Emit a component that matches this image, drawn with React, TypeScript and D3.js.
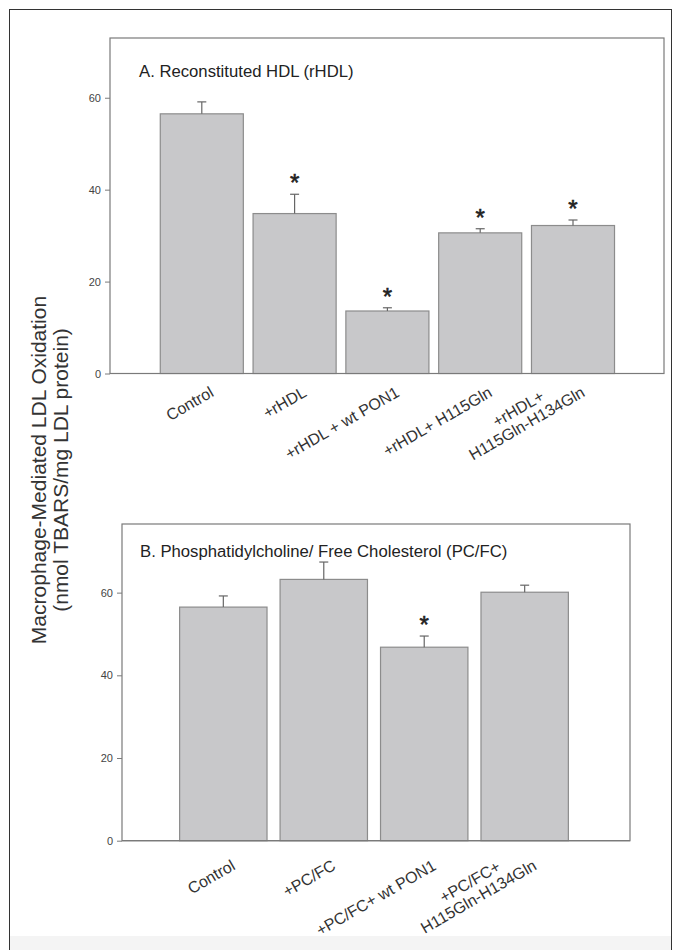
import React, { useEffect, useRef } from 'react';
import * as d3 from 'd3';

// Panel A: reconstituted HDL
const panelACategories = ['Control', '+rHDL', '+rHDL + wt PON1', '+rHDL+ H115Gln', '+rHDL+\nH115Gln-H134Gln'];
const panelAMeans = [56.5, 34.8, 13.6, 30.6, 32.2];
const panelAErrors = [2.6, 4.2, 0.7, 0.9, 1.2];
const panelASignificant = [false, true, true, true, true];

// Panel B: PC/FC
const panelBCategories = ['Control', '+PC/FC', '+PC/FC+ wt PON1', '+PC/FC+\nH115Gln-H134Gln'];
const panelBMeans = [56.5, 63.2, 46.8, 60.1];
const panelBErrors = [2.7, 4.2, 2.7, 1.7];
const panelBSignificant = [false, false, true, false];

const yTicks = [0, 20, 40, 60];

const FONT = "'Liberation Sans', Arial, Helvetica, sans-serif";
const BAR_FILL = '#c8c8ca';
const BAR_STROKE = '#8c8c8c';
const AXIS = '#7a7a7a';

type Panel = {
    title: string;
    categories: string[];
    means: number[];
    errors: number[];
    significant: boolean[];
    box: { left: number; top: number; right: number; bottom: number };
    yMax: number;
    bandRange: [number, number];
    padding: number;
    labelGap: number;
    titleX: number;
    titleY: number;
};

const panels: Panel[] = [
    {
        title: 'A. Reconstituted HDL (rHDL)',
        categories: panelACategories,
        means: panelAMeans,
        errors: panelAErrors,
        significant: panelASignificant,
        box: { left: 110, top: 38, right: 664, bottom: 373.5 },
        yMax: 73,
        bandRange: [155.4, 619.4],
        padding: 0.105,
        labelGap: 22,
        titleX: 139,
        titleY: 77,
    },
    {
        title: 'B. Phosphatidylcholine/ Free Cholesterol (PC/FC)',
        categories: panelBCategories,
        means: panelBMeans,
        errors: panelBErrors,
        significant: panelBSignificant,
        box: { left: 122, top: 524, right: 630, bottom: 840.7 },
        yMax: 76.6,
        bandRange: [173.1, 574.9],
        padding: 0.13,
        labelGap: 28,
        titleX: 140,
        titleY: 557,
    },
];

const App = () => {
    const svgRef = useRef<SVGSVGElement>(null);

    useEffect(() => {
        const svg = d3.select(svgRef.current);
        svg.selectAll('*').remove();

        // figure frame
        svg.append('rect')
            .attr('x', 0).attr('y', 0).attr('width', 676).attr('height', 950)
            .attr('fill', '#ffffff');
        svg.append('rect')
            .attr('x', 10).attr('y', 936).attr('width', 661).attr('height', 14)
            .attr('fill', '#f4f4f4');
        svg.append('rect')
            .attr('x', 9.5).attr('y', 9.5).attr('width', 662).attr('height', 960)
            .attr('fill', 'none').attr('stroke', '#333').attr('stroke-width', 1);

        panels.forEach(p => {
            const g = svg.append('g');
            const { box } = p;

            const y = d3.scaleLinear().domain([0, p.yMax]).range([box.bottom, box.top]);
            const x = d3.scaleBand<string>()
                .domain(p.categories)
                .range(p.bandRange)
                .paddingInner(p.padding)
                .paddingOuter(p.padding / 2);

            // box
            g.append('rect')
                .attr('x', box.left).attr('y', box.top)
                .attr('width', box.right - box.left).attr('height', box.bottom - box.top)
                .attr('fill', '#fff').attr('stroke', AXIS).attr('stroke-width', 1.2);

            // y axis
            const yAxis = g.append('g')
                .attr('transform', `translate(${box.left},0)`)
                .call(d3.axisLeft(y).tickValues(yTicks).tickSize(5).tickPadding(4));
            yAxis.select('.domain').remove();
            yAxis.selectAll('line').attr('stroke', AXIS);
            yAxis.selectAll('text')
                .attr('fill', '#444')
                .style('font-family', FONT)
                .style('font-size', '11px');

            // bars
            g.selectAll('.bar')
                .data(p.categories)
                .enter()
                .append('rect')
                .attr('x', d => x(d)!)
                .attr('y', (d, i) => y(p.means[i]))
                .attr('width', x.bandwidth())
                .attr('height', (d, i) => box.bottom - y(p.means[i]))
                .attr('fill', BAR_FILL)
                .attr('stroke', BAR_STROKE)
                .attr('stroke-width', 1.2);

            // error bars (upper only)
            p.categories.forEach((c, i) => {
                const cx = x(c)! + x.bandwidth() / 2;
                const top = y(p.means[i] + p.errors[i]);
                g.append('line')
                    .attr('x1', cx).attr('x2', cx)
                    .attr('y1', y(p.means[i])).attr('y2', top)
                    .attr('stroke', '#666').attr('stroke-width', 1.2);
                g.append('line')
                    .attr('x1', cx - 4.5).attr('x2', cx + 4.5)
                    .attr('y1', top).attr('y2', top)
                    .attr('stroke', '#666').attr('stroke-width', 1.2);
                if (p.significant[i]) {
                    g.append('text')
                        .attr('x', cx).attr('y', top - 3)
                        .attr('text-anchor', 'middle')
                        .attr('fill', '#222')
                        .attr('stroke', '#222')
                        .attr('stroke-width', 0.6)
                        .style('font-family', FONT)
                        .style('font-size', '24px')
                        .text('*');
                }
            });

            // bottom axis line redrawn above bars
            g.append('line')
                .attr('x1', box.left).attr('x2', box.right)
                .attr('y1', box.bottom).attr('y2', box.bottom)
                .attr('stroke', AXIS).attr('stroke-width', 1.2);

            // rotated category labels
            p.categories.forEach(c => {
                const cx = x(c)! + x.bandwidth() / 2;
                const lines = c.split('\n');
                const lg = g.append('g')
                    .attr('transform', `translate(${cx + 13},${box.bottom + p.labelGap}) rotate(-30)`);
                const texts = lines.map((line, i) =>
                    lg.append('text')
                        .attr('y', (i - (lines.length - 1)) * 17)
                        .attr('text-anchor', 'end')
                        .attr('fill', '#333')
                        .style('font-family', FONT)
                        .style('font-size', '16px')
                        .text(line)
                );
                const widths = texts.map(t => (t.node() as SVGTextElement).getComputedTextLength());
                const maxW = d3.max(widths) || 0;
                texts.forEach((t, i) => t.attr('x', -(maxW - widths[i]) / 2));
            });

            // panel title
            g.append('text')
                .attr('x', p.titleX)
                .attr('y', p.titleY)
                .attr('fill', '#222')
                .style('font-family', FONT)
                .style('font-size', '16.7px')
                .text(p.title);
        });

        // shared y-axis label
        const yl = svg.append('g').attr('transform', 'translate(0,470) rotate(-90)');
        yl.append('text')
            .attr('x', 0).attr('y', 46)
            .attr('text-anchor', 'middle')
            .attr('fill', '#333')
            .style('font-family', FONT)
            .style('font-size', '21px')
            .text('Macrophage-Mediated LDL Oxidation');
        yl.append('text')
            .attr('x', 0).attr('y', 68)
            .attr('text-anchor', 'middle')
            .attr('fill', '#333')
            .style('font-family', FONT)
            .style('font-size', '21px')
            .text('(nmol TBARS/mg LDL protein)');
    }, []);

    return (
        <div style={{ position: 'absolute', left: 0, top: 0 }}>
            <svg ref={svgRef} width={676} height={950} style={{ display: 'block' }}></svg>
        </div>
    );
};

export default App;
